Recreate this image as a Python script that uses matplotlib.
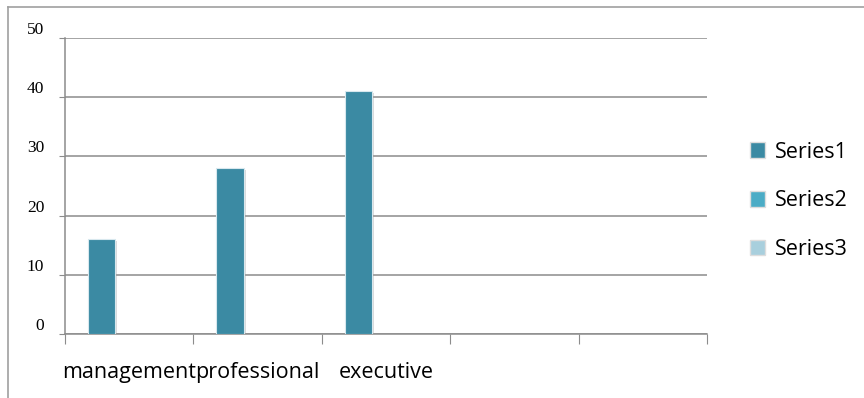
import numpy as np
import matplotlib.pyplot as plt
import matplotlib.patheffects as pe

categories = ["management", "professional", "executive", "", ""]
series1 = [16, 28, 41, np.nan, np.nan]
series2 = [np.nan] * 5
series3 = [np.nan] * 5
series_names = ["Series1", "Series2", "Series3"]
colors = ["#3b8aa3", "#4bacc6", "#a8cfdd"]
yticks = [0, 10, 20, 30, 40, 50]

fig = plt.figure(figsize=(8.64, 3.98), dpi=100)
ax = fig.add_axes([65 / 864, 1 - 334 / 398, 642 / 864, 296 / 398])

# outer chart frame (only left and top edges fall inside the image)
fig.add_artist(plt.Line2D([8 / 864, 8 / 864], [0, 1 - 7 / 398], color="#a0a0a0", lw=1.2,
                          transform=fig.transFigure))
fig.add_artist(plt.Line2D([8 / 864, 1], [1 - 7 / 398, 1 - 7 / 398], color="#a0a0a0", lw=1.2,
                          transform=fig.transFigure))

centers = np.arange(len(categories)) + 0.5
w = 0.215
shadow = [pe.SimplePatchShadow(offset=(1.5, -1.5), shadow_rgbFace="#999999", alpha=0.35), pe.Normal()]
handles = []
for i, (vals, name) in enumerate(zip([series1, series2, series3], series_names)):
    bars = ax.bar(centers + (i - 1) * w, vals, width=w, color=colors[i],
                  edgecolor="#d8e8ee", linewidth=0.8, label=name, zorder=3)
    for b in bars:
        b.set_path_effects(shadow)
    handles.append(bars)

ax.set_xlim(0, len(categories))
ax.set_ylim(0, 50)
ax.set_yticks(yticks)
ax.set_yticklabels([str(v) for v in yticks], family="Liberation Serif", fontsize=12.5)
ax.yaxis.grid(True, color="#8c8c8c", lw=1.1, zorder=0)
ax.tick_params(axis="y", length=4, color="#8c8c8c", pad=11)
for lbl in ax.get_yticklabels():
    lbl.set_verticalalignment("bottom")

ax.set_xticks(np.arange(len(categories) + 1))
ax.set_xticklabels([])
ax.set_xticks(centers, minor=True)
ax.set_xticklabels(categories, minor=True, family="Open Sans", fontsize=15.5)
ax.tick_params(axis="x", which="major", length=7, color="#8c8c8c")
ax.tick_params(axis="x", which="minor", length=0, pad=20)

for s in ["top", "right"]:
    ax.spines[s].set_visible(False)
for s in ["left", "bottom"]:
    ax.spines[s].set_color("#8c8c8c")
    ax.spines[s].set_linewidth(1.1)

leg = fig.legend(handles=[plt.Rectangle((0, 0), 1, 1, fc=c, ec="#dddddd") for c in colors],
                 labels=series_names, loc="center left", bbox_to_anchor=(731 / 864, 1 - 201 / 398),
                 frameon=False, prop={"family": "Open Sans", "size": 15.5},
                 handlelength=0.7, handleheight=0.7, handletextpad=0.45, labelspacing=1.3)

fig.savefig("out.png", dpi=100)
